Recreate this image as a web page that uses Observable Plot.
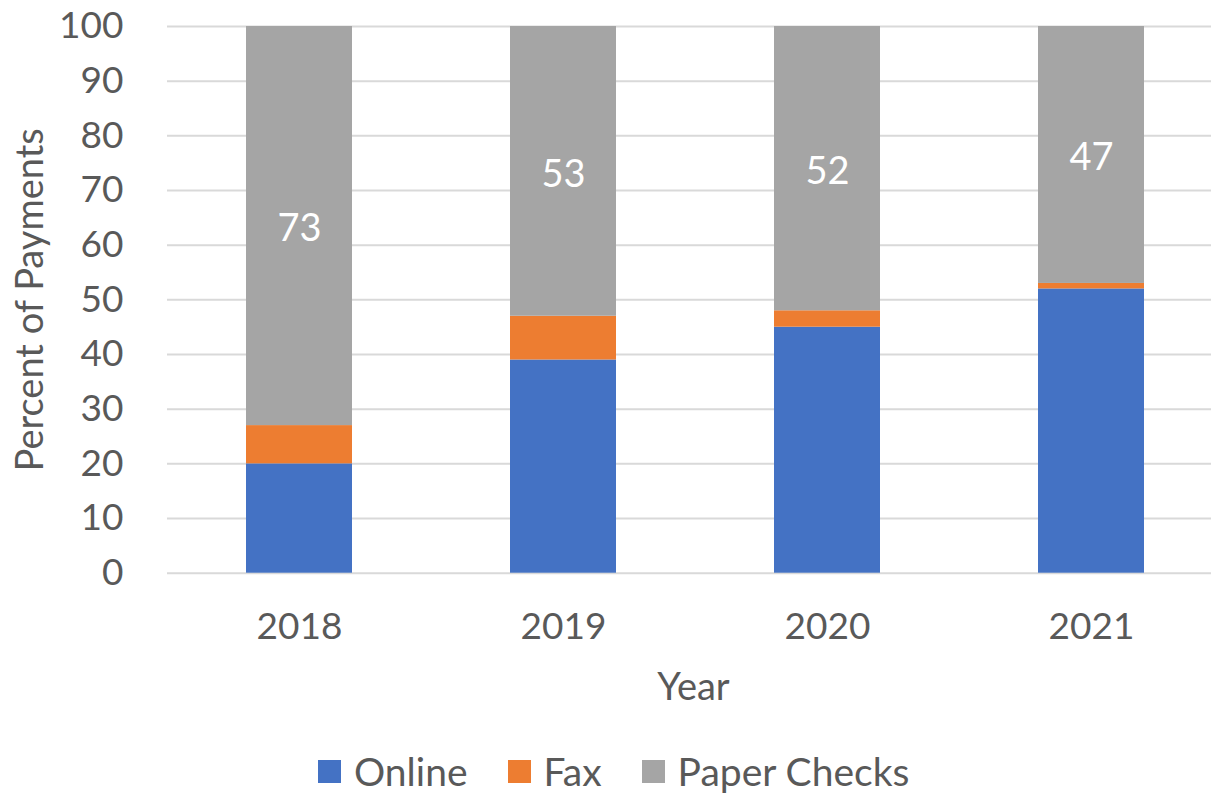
<!DOCTYPE html>
<html><head><meta charset="utf-8">
<script src="https://cdn.jsdelivr.net/npm/d3@7"></script>
<script src="https://cdn.jsdelivr.net/npm/@observablehq/plot@0.6"></script>
<style>
body{margin:0;background:#fff;font-family:Lato,sans-serif;}
#wrap{position:relative;width:1211px;height:794px;}
#legend{position:absolute;top:748px;left:318px;display:flex;align-items:center;font-size:39px;color:#595959;white-space:nowrap;}
.item{display:flex;align-items:center;margin-right:40px}
.sw{width:23px;height:23px;margin-right:13px;flex:none}
</style></head><body><div id="wrap"><div id="chart"></div><div id="legend"></div></div>
<script>
const years = ["2018", "2019", "2020", "2021"];
const series = ["Online", "Fax", "Paper Checks"];
const colors = ["#4472C4", "#ED7D31", "#A5A5A5"];
const online = [20, 39, 45, 52];
const fax = [7, 8, 3, 1];
const paper = [73, 53, 52, 47];
const yTicks = [0, 10, 20, 30, 40, 50, 60, 70, 80, 90, 100];

const valuesBySeries = {"Online": online, "Fax": fax, "Paper Checks": paper};
const rows = years.flatMap((yr, i) => series.map(s => ({year: yr, series: s, value: valuesBySeries[s][i]})));

const H = 735;
const chart = Plot.plot({
  width: 1211,
  height: H,
  marginTop: 26,
  marginLeft: 167,
  marginRight: 0,
  marginBottom: H - 572.7,
  style: {fontFamily: "Lato, sans-serif", fontSize: "37px", color: "#595959", background: "white"},
  x: {domain: years, range: [167, 1223], paddingInner: 0.6, paddingOuter: 0.3, label: null},
  y: {domain: [0, 100], ticks: yTicks, label: null},
  color: {domain: series, range: colors},
  marks: [
    Plot.gridY(yTicks, {stroke: "#D9D9D9", strokeOpacity: 1, strokeWidth: 2}),
    Plot.barY(rows, {x: "year", y: "value", fill: "series", order: series}),
    Plot.text(rows, Plot.stackY({x: "year", y: "value", z: "series", order: series,
      text: d => d.series === "Paper Checks" ? String(d.value) : null,
      fill: "white", fontSize: 38, dy: 3})),
    Plot.axisY(yTicks, {tickSize: 0, tickPadding: 44, fontSize: 37, fill: "#595959", label: null}),
    Plot.axisX({tickSize: 0, tickPadding: 40, fontSize: 37, fill: "#595959", label: null}),
    Plot.text(["Year"], {frameAnchor: "bottom", dx: 4, dy: 115, lineAnchor: "middle", textAnchor: "middle", text: d => d, fontSize: 38, fill: "#595959"}),
    Plot.text(["Percent of Payments"], {frameAnchor: "left", dx: -137, rotate: -90, textAnchor: "middle", lineAnchor: "middle", text: d => d, fontSize: 38, fill: "#595959"})
  ]
});
document.getElementById("chart").appendChild(chart);

const legend = document.getElementById("legend");
series.forEach((s, i) => {
  const item = document.createElement("div");
  item.className = "item";
  const sw = document.createElement("span");
  sw.className = "sw";
  sw.style.background = colors[i];
  const label = document.createElement("span");
  label.textContent = s;
  item.appendChild(sw);
  item.appendChild(label);
  legend.appendChild(item);
});
</script>
</body></html>
